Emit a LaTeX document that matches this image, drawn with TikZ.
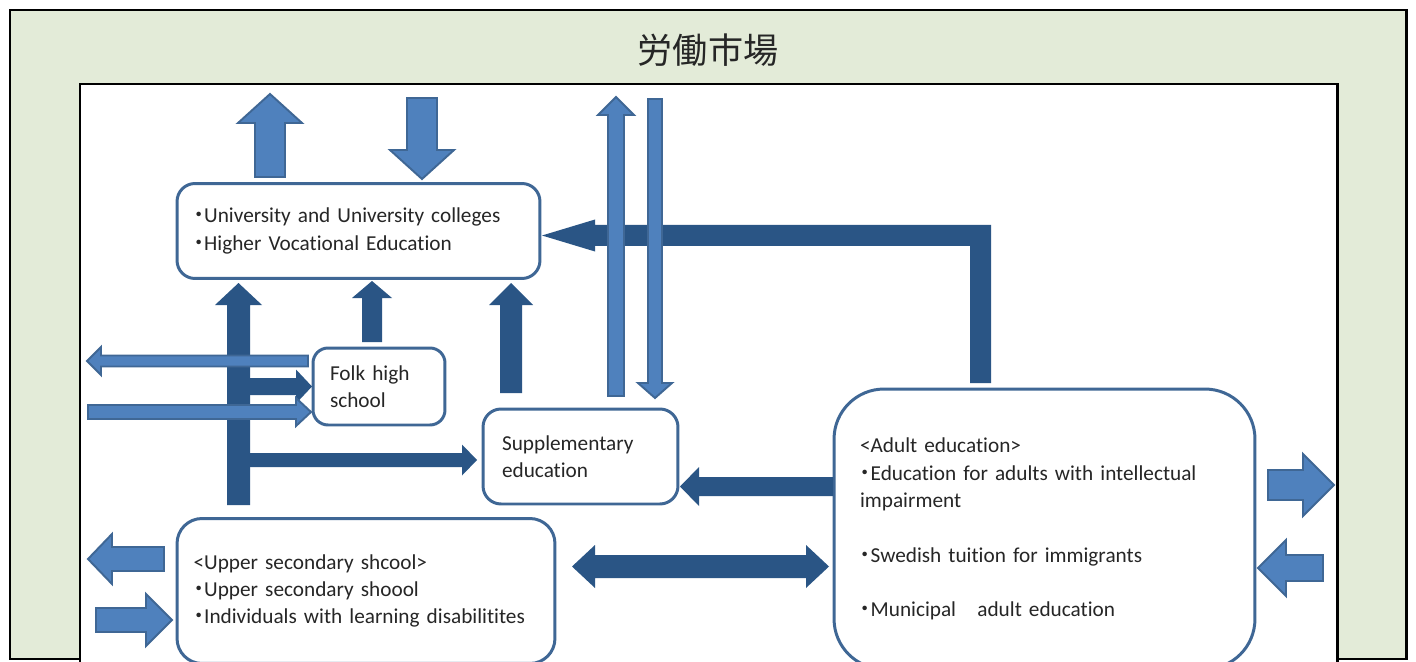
\documentclass[tikz,border=0pt]{standalone}
\usepackage{fontspec}
\setmainfont{Carlito}[Ligatures=NoCommon]
\newfontfamily\jpfont[RawFeature=+palt]{Noto Sans CJK JP}
\usepackage{tikz}
\definecolor{marketgreen}{HTML}{E3EBD8}
\definecolor{flowlight}{HTML}{4F81BD}
\definecolor{flowedge}{HTML}{3F6795}
\definecolor{flowdark}{HTML}{2A5585}
\definecolor{textgray}{HTML}{262626}
\tikzset{
  lightflow/.style={fill=flowlight, draw=flowedge, line width=1.1pt},
  darkflow/.style={fill=flowdark},
  edubox/.style={draw=flowedge, line width=1.7pt, fill=white, align=left,
    inner sep=0pt, text=textgray, font=\fontsize{12.1}{15.6}\selectfont}
}
\newcommand{\bul}{{\jpfont ・}}
% block arrow: tail, angle, length, half shaft, half head, head length
\newcommand{\blockarrow}[7][]{%
  \begin{scope}[shift={#2}, rotate=#3]
    \path[#1] (0,-#5) -- ({#4-#7},-#5) -- ({#4-#7},-#6) -- (#4,0)
      -- ({#4-#7},#6) -- ({#4-#7},#5) -- (0,#5) -- cycle;
  \end{scope}%
}

\begin{document}
\begin{tikzpicture}[x=0.02cm, y=-0.02cm]
  \clip (0,0) rectangle (1416,662);

  % labour market frame
  \draw[fill=marketgreen, line width=1.7pt] (10,10) rectangle (1406,659);
  \draw[fill=white, line width=1.7pt] (80,84) rectangle (1337,700);
  \node[font=\jpfont\fontsize{20}{24}\selectfont, text=textgray] (market) at (708,50) {労働市場};

  % schools
  \node[edubox, rounded corners=0.36cm, minimum width=7.26cm, minimum height=1.9cm,
    text width=6.6cm] (univ) at (358.5,231)
    {\bul University and University colleges\\ \bul Higher Vocational Education};
  \node[edubox, rounded corners=0.3cm, minimum width=2.64cm, minimum height=1.54cm,
    text width=1.96cm] (folk) at (379,386.5) {Folk high\\ school};
  \node[edubox, rounded corners=0.36cm, minimum width=3.9cm, minimum height=1.9cm,
    text width=3.14cm] (supp) at (580.5,456.5) {Supplementary\\ education};
  \node[edubox, rounded corners=1cm, minimum width=8.42cm, minimum height=5.6cm,
    text width=7.38cm] (adult) at (1044.5,529)
    {<Adult education>\\ \bul Education for adults with intellectual\\ impairment\\[15.3pt]
     \bul Swedish tuition for immigrants\\[15.3pt] \bul Municipal\hspace{1em}adult education};
  \node[edubox, rounded corners=0.5cm, minimum width=7.56cm, minimum height=2.9cm,
    text width=6.9cm] (upper) at (366,591)
    {<Upper secondary shcool>\\ \bul Upper secondary shoool\\ \bul Individuals with learning disabilitites};

  % dark flows
  \foreach \x/\y/\a/\l/\s/\hw/\hl in {
    238.5/505/90/222/11.5/23.5/22,
    372/342/90/61/10/20/17,
    243/386.5/0/69/8.5/17/16,
    242/460/0/235/7/15.5/15,
    511/393/90/110/11/22/22,
    833/486.5/180/153/9.5/19.5/19
  }{
    \blockarrow[darkflow]{(\x,\y)}{\a}{\l}{\s}{\hw}{\hl}
  }
  \fill[flowdark] (970,383) -- (970,246) -- (595,246) -- (595,251.5) -- (542,235.5)
    -- (595,219.5) -- (595,225) -- (991,225) -- (991,383) -- cycle;
  \fill[flowdark] (572,566.5) -- (595,545) -- (595,555) -- (806,555) -- (806,545)
    -- (829,566.5) -- (806,588) -- (806,578) -- (595,578) -- (595,588) -- cycle;

  % light flows
  \foreach \x/\y/\a/\l/\s/\hw/\hl in {
    270/177/90/83/15/32/29,
    422/98/270/81/15/32/29,
    616/396/90/299/8/18/18,
    655/99/270/299/7/17/15,
    308/361/180/221/5.5/14/14,
    88/412/0/223/7/14/15,
    1268/485/0/66/15/31/31,
    1323/568/180/65/13/28/28,
    164/559/180/76/12/25/24,
    96/620/0/76/12/26/26
  }{
    \blockarrow[lightflow]{(\x,\y)}{\a}{\l}{\s}{\hw}{\hl}
  }
\end{tikzpicture}
\end{document}
